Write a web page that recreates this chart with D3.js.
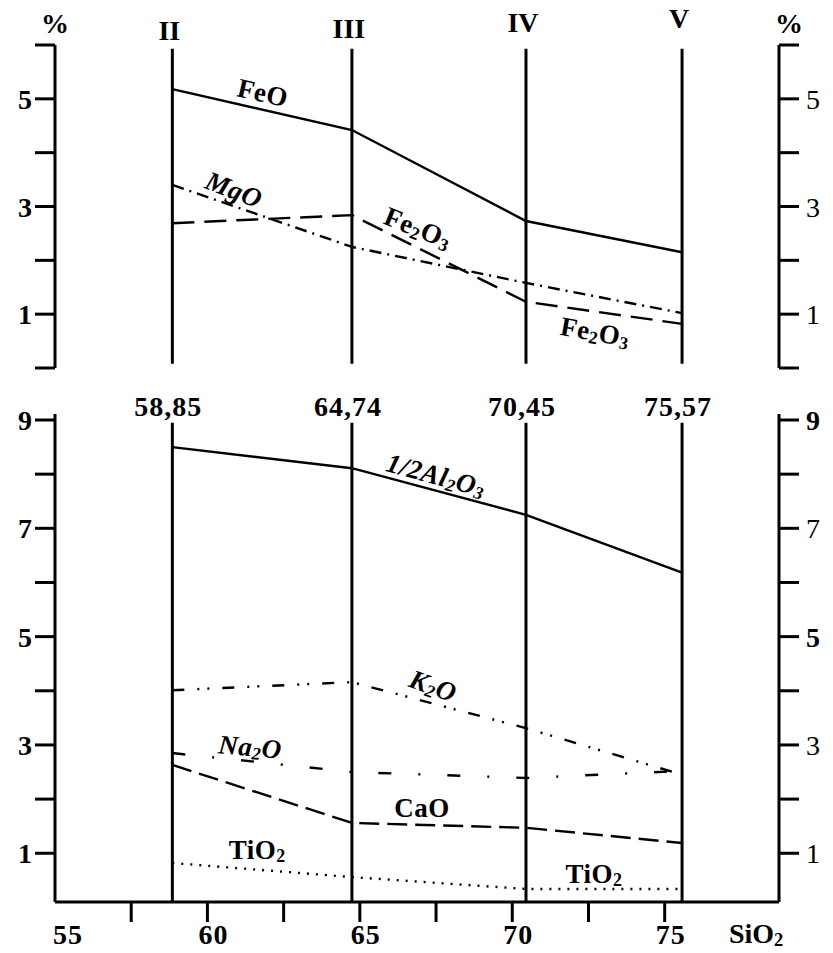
<!DOCTYPE html>
<html>
<head>
<meta charset="utf-8">
<script src="https://cdn.jsdelivr.net/npm/d3@7"></script>
<style>
  html, body { margin: 0; padding: 0; background: #fff; }
  svg { display: block; }
</style>
</head>
<body>
<svg id="chart" width="833" height="953" font-family="'Liberation Serif', 'Times New Roman', 'DejaVu Serif', serif"></svg>
<script>
// Samples II–V and their SiO2 content (%)
const samples = ["II", "III", "IV", "V"];
const sio2 = [58.85, 64.74, 70.45, 75.57];
const sio2Labels = ["58,85", "64,74", "70,45", "75,57"];

// Upper panel oxides (%)
const feo = [5.18, 4.42, 2.73, 2.15];
const fe2o3 = [2.69, 2.84, 1.23, 0.82];
const mgo = [3.40, 2.25, 1.58, 1.02];

// Lower panel oxides (%)
const al2o3Half = [8.50, 8.11, 7.25, 6.18];
const k2o = [4.01, 4.16, 3.31, 2.45];
const na2o = [2.85, 2.50, 2.39, 2.52];
const cao = [2.63, 1.56, 1.47, 1.19];
const tio2 = [0.82, 0.56, 0.34, 0.34];

// Axis ticks
const topTicks = [0, 1, 2, 3, 4, 5, 6];
const topTickLabels = [1, 3, 5];
const botTicks = [1, 2, 3, 4, 5, 6, 7, 8, 9];
const botTickLabels = [1, 3, 5, 7, 9];
const xTicks = [57.5, 60, 62.5, 65, 67.5, 70, 72.5, 75];
const xTickLabels = [55, 60, 65, 70, 75];

const SERIF = "'Liberation Serif', 'Times New Roman', 'DejaVu Serif', serif";
const svg = d3.select("#chart");
const FONT = 28;
const NOTE_FONT = 27;

const x = d3.scaleLinear().domain([55, 78.75]).range([55, 779]);
const yTop = d3.scaleLinear().domain([0, 6]).range([368, 45]);
const yBot = d3.scaleLinear().domain([0.1, 9]).range([902, 420]);

const xL = x.domain()[0], xR = x.domain()[1];

// ---------- helpers ----------
function label(sel) {
  return sel.append("text").attr("font-family", SERIF).attr("fill", "#000");
}

function richText(sel, parts) {
  let shifted = false;
  parts.forEach(([t, sub]) => {
    const ts = sel.append("tspan").text(t);
    if (sub && !shifted) { ts.attr("dy", 3).attr("font-size", "0.66em"); shifted = true; }
    else if (sub) { ts.attr("font-size", "0.66em"); }
    else if (shifted) { ts.attr("dy", -3); shifted = false; }
  });
}

function yAxis(scale, ticks, labels, side, top, weights) {
  const ax = side === "left" ? x(xL) : x(xR);
  const dir = side === "left" ? -1 : 1;
  const g = svg.append("g");
  g.append("line")
    .attr("x1", ax).attr("x2", ax)
    .attr("y1", top).attr("y2", scale(scale.domain()[0]))
    .attr("stroke", "#000").attr("stroke-width", 3);
  g.selectAll("line.tk").data(ticks).join("line").attr("class", "tk")
    .attr("x1", ax).attr("x2", ax + dir * 20)
    .attr("y1", d => scale(d)).attr("y2", d => scale(d))
    .attr("stroke", "#000").attr("stroke-width", 3);
  g.selectAll("text").data(labels).join("text")
    .attr("font-family", SERIF)
    .attr("x", ax + dir * 23 + (side === "left" ? 0 : 4))
    .attr("y", d => scale(d) + 10)
    .attr("text-anchor", side === "left" ? "end" : "start")
    .attr("font-size", FONT)
    .attr("font-weight", d => weights(d))
    .text(d => d);
}

// ---------- upper panel ----------
yAxis(yTop, topTicks, topTickLabels, "left", yTop(6), () => "bold");
yAxis(yTop, topTicks, topTickLabels, "right", yTop(6), () => "normal");

label(svg).attr("x", x(xL)).attr("y", 33).attr("text-anchor", "middle")
  .attr("font-size", FONT).attr("font-weight", "bold").text("%");
label(svg).attr("x", x(xR) + 10).attr("y", 33).attr("text-anchor", "middle")
  .attr("font-size", FONT).attr("font-weight", "bold").text("%");

// sample verticals with roman numerals
const romanShift = [0, -2, -8, -12];
svg.append("g").selectAll("line").data(sio2).join("line")
  .attr("x1", d => x(d)).attr("x2", d => x(d))
  .attr("y1", yTop(5.93)).attr("y2", yTop(0.08))
  .attr("stroke", "#000").attr("stroke-width", 3);
svg.append("g").selectAll("text").data(samples).join("text")
  .attr("font-family", SERIF)
  .attr("x", (d, i) => x(sio2[i]) - 3)
  .attr("y", (d, i) => 40 + romanShift[i])
  .attr("text-anchor", "middle").attr("font-size", FONT).attr("font-weight", "bold")
  .text(d => d);

// ---------- lower panel ----------
yAxis(yBot, botTicks, botTickLabels, "left", yBot(9) - 6, () => "bold");
yAxis(yBot, botTicks, botTickLabels, "right", yBot(9) - 6, d => (d === 9 || d === 5) ? "bold" : "normal");

// SiO2 axis
svg.append("line")
  .attr("x1", x(xL)).attr("x2", x(xR))
  .attr("y1", yBot(0.1)).attr("y2", yBot(0.1))
  .attr("stroke", "#000").attr("stroke-width", 3);
svg.append("g").selectAll("line").data(xTicks).join("line")
  .attr("x1", d => x(d)).attr("x2", d => x(d))
  .attr("y1", yBot(0.1)).attr("y2", yBot(0.1) + 20)
  .attr("stroke", "#000").attr("stroke-width", 3);
svg.append("g").selectAll("text").data(xTickLabels).join("text")
  .attr("font-family", SERIF)
  .attr("x", d => x(d) + (d === xL ? 13 : 6))
  .attr("y", 944)
  .attr("text-anchor", "middle").attr("font-size", FONT).attr("font-weight", "bold")
  .attr("letter-spacing", 1)
  .text(d => d);
richText(label(svg).attr("x", x(78)).attr("y", 943)
  .attr("text-anchor", "middle").attr("font-size", FONT).attr("font-weight", "bold"),
  [["SiO"], ["2", true]]);

// sample verticals with SiO2 values
svg.append("g").selectAll("line").data(sio2).join("line")
  .attr("x1", d => x(d)).attr("x2", d => x(d))
  .attr("y1", yBot(8.95)).attr("y2", yBot(0.1))
  .attr("stroke", "#000").attr("stroke-width", 3);
svg.append("g").selectAll("text").data(sio2Labels).join("text")
  .attr("font-family", SERIF)
  .attr("x", (d, i) => x(sio2[i]) - 4)
  .attr("y", 416)
  .attr("text-anchor", "middle").attr("font-size", FONT).attr("font-weight", "bold")
  .attr("letter-spacing", 1)
  .text(d => d);

// ---------- oxide curves ----------
const series = [
  { v: feo, y: yTop, dash: null },
  { v: fe2o3, y: yTop, dash: "22 10" },
  { v: mgo, y: yTop, dash: "12 6 2 6" },
  { v: al2o3Half, y: yBot, dash: null },
  { v: k2o, y: yBot, dash: "12 13 2 8 2 13" },
  { v: na2o, y: yBot, dash: "13 27 2 27" },
  { v: cao, y: yBot, dash: "20 8" },
  { v: tio2, y: yBot, dash: "2 7" }
];
svg.append("g").selectAll("path").data(series).join("path")
  .attr("d", s => d3.line().x((d, i) => x(sio2[i])).y(d => s.y(d))(s.v))
  .attr("fill", "none").attr("stroke", "#000").attr("stroke-width", 2.4)
  .attr("stroke-dasharray", s => s.dash);

// ---------- curve names ----------
const notes = [
  { y: yTop, at: [61.82, 5.11], rot: 13, it: false, parts: [["FeO"]] },
  { y: yTop, at: [60.87, 3.31], rot: 21, it: true, parts: [["MgO"]] },
  { y: yTop, at: [66.91, 2.60], rot: 22, it: false, parts: [["Fe"], ["2", 1], ["O"], ["3", 1]] },
  { y: yTop, at: [72.72, 0.67], rot: 10, it: false, parts: [["Fe"], ["2", 1], ["O"], ["3", 1]] },
  { y: yBot, at: [67.50, 7.98], rot: 15, it: true, parts: [["1/2Al"], ["2", 1], ["O"], ["3", 1]] },
  { y: yBot, at: [67.40, 4.09], rot: 20, it: true, parts: [["K"], ["2", 1], ["O"]] },
  { y: yBot, at: [61.40, 2.96], rot: 5, it: true, parts: [["Na"], ["2", 1], ["O"]] },
  { y: yBot, at: [67.04, 1.84], rot: 0, it: false, parts: [["CaO"]] },
  { y: yBot, at: [61.63, 1.06], rot: 0, it: false, parts: [["TiO"], ["2", 1]] },
  { y: yBot, at: [72.68, 0.62], rot: 0, it: false, parts: [["TiO"], ["2", 1]] }
];
notes.forEach(n => {
  const t = label(svg)
    .attr("transform", `translate(${x(n.at[0])},${n.y(n.at[1])}) rotate(${n.rot})`)
    .attr("y", 9)
    .attr("text-anchor", "middle")
    .attr("font-size", NOTE_FONT)
    .attr("font-weight", "bold")
    .attr("letter-spacing", 0.5)
    .attr("font-style", n.it ? "italic" : "normal");
  richText(t, n.parts);
});
</script>
</body>
</html>
